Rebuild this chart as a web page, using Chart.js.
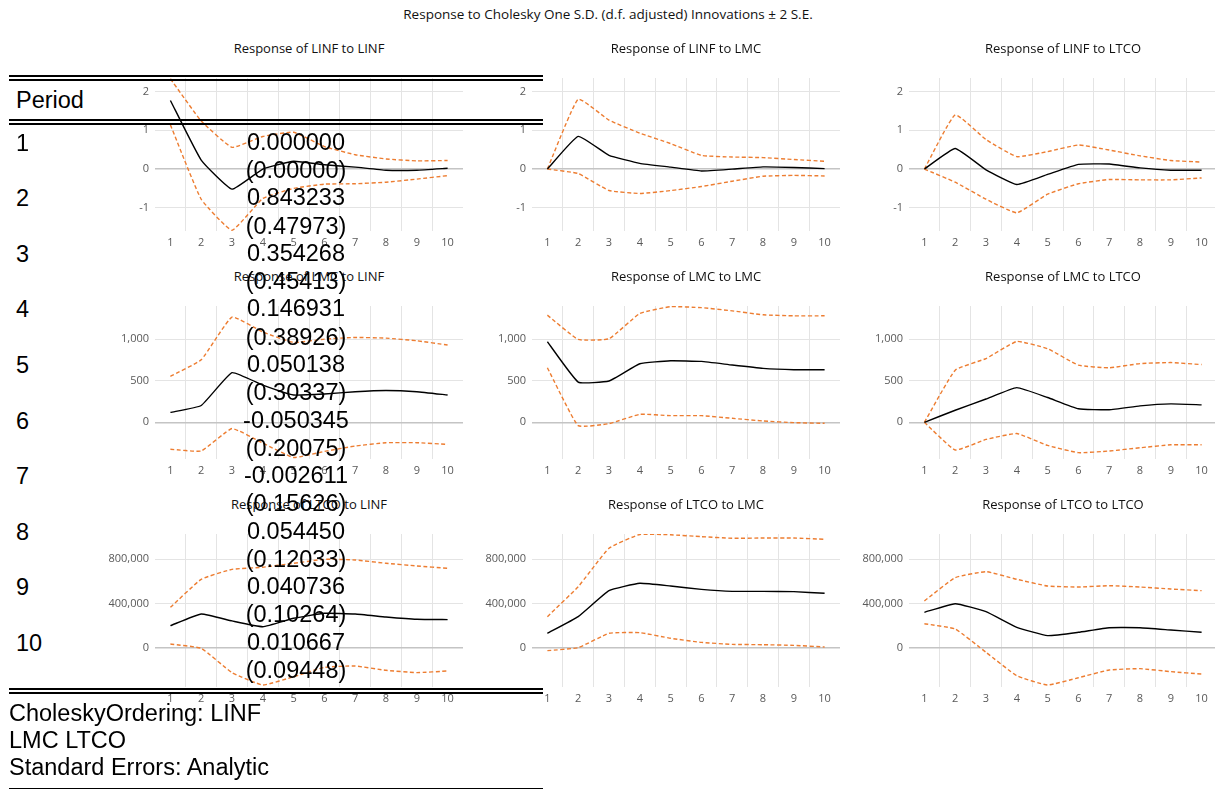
<!DOCTYPE html>
<html><head><meta charset="utf-8">
<script src="https://cdn.jsdelivr.net/npm/chart.js@4.4.0/dist/chart.umd.min.js"></script>
<style>
html,body{margin:0;padding:0;background:#fff;}
body{width:1215px;height:789px;overflow:hidden;position:relative;}
.wrap{position:absolute;}
.t{position:absolute;white-space:nowrap;}
.pt{font-family:'Open Sans',sans-serif;font-size:13px;color:#111;transform:translate(-50%,-50%);}
.tb{font-family:'Liberation Sans',Arial,sans-serif;font-size:23.5px;color:#000;line-height:28px;height:28px;}
.hl{position:absolute;left:9px;width:534px;background:#000;}
</style></head><body>
<script>
// ---------- data ----------
const periods = ['1','2','3','4','5','6','7','8','9','10'];

const mainTitle = 'Response to Cholesky One S.D. (d.f. adjusted) Innovations \u00B1 2 S.E.';
const panelTitles = [
  'Response of LINF to LINF','Response of LINF to LMC','Response of LINF to LTCO',
  'Response of LMC to LINF','Response of LMC to LMC','Response of LMC to LTCO',
  'Response of LTCO to LINF','Response of LTCO to LMC','Response of LTCO to LTCO'
];

// Row 1: responses of LINF
const linfLinf   = [1.77, 0.23, -0.52, 0.0, 0.2, 0.11, 0.05, -0.03, -0.03, 0.02];
const linfLinfUp = [2.33, 1.24, 0.56, 0.84, 0.95, 0.58, 0.37, 0.26, 0.21, 0.22];
const linfLinfLo = [1.14, -0.78, -1.58, -0.76, -0.5, -0.39, -0.38, -0.34, -0.26, -0.17];

const linfLmc   = [0.000000, 0.843233, 0.354268, 0.146931, 0.050138, -0.050345, -0.002611, 0.054450, 0.040736, 0.010667];
const linfLmcUp = [0, 1.8027, 1.2625, 0.9255, 0.6569, 0.3512, 0.3099, 0.2951, 0.2460, 0.1996];
const linfLmcLo = [0, -0.1162, -0.5540, -0.6316, -0.5566, -0.4518, -0.3151, -0.1862, -0.1645, -0.1783];

const linfLtco   = [0, 0.53, -0.02, -0.4, -0.14, 0.12, 0.13, 0.03, -0.03, -0.03];
const linfLtcoUp = [0, 1.4, 0.76, 0.32, 0.45, 0.62, 0.49, 0.34, 0.22, 0.18];
const linfLtcoLo = [0, -0.34, -0.78, -1.13, -0.65, -0.38, -0.27, -0.28, -0.28, -0.23];

// Row 2: responses of LMC
const lmcLinf   = [119, 202, 597, 447, 328, 340, 368, 383, 368, 328];
const lmcLinfUp = [553, 751, 1265, 1085, 960, 1000, 1020, 1012, 980, 929];
const lmcLinfLo = [-324, -344, -75, -250, -423, -350, -285, -245, -245, -265];

const lmcLmc   = [968, 484, 496, 704, 740, 732, 688, 648, 632, 632];
const lmcLmcUp = [1288, 996, 1004, 1308, 1390, 1378, 1340, 1292, 1280, 1280];
const lmcLmcLo = [656, -40, -16, 96, 80, 80, 48, 16, -4, -12];

const lmcLtco   = [0, 145, 280, 417, 298, 163, 151, 198, 222, 210];
const lmcLtcoUp = [0, 627, 766, 972, 885, 687, 655, 706, 718, 694];
const lmcLtcoLo = [0, -333, -206, -135, -278, -365, -345, -306, -270, -270];

// Row 3: responses of LTCO
const ltcoLinf   = [199000, 305000, 242000, 190000, 266000, 311000, 305000, 278000, 257000, 254000];
const ltcoLinfUp = [365000, 619000, 709000, 728000, 764000, 800000, 794000, 764000, 740000, 718000];
const ltcoLinfLo = [33000, -6000, -226000, -338000, -263000, -178000, -166000, -205000, -226000, -211000];

const ltcoLmc   = [130000, 281000, 516000, 583000, 558000, 528000, 510000, 510000, 507000, 492000];
const ltcoLmcUp = [281000, 552000, 900000, 1025000, 1022000, 1005000, 990000, 993000, 993000, 981000];
const ltcoLmcLo = [-27000, 0, 130000, 136000, 85000, 48000, 30000, 27000, 21000, 6000];

const ltcoLtco   = [320000, 398000, 326000, 184000, 109000, 139000, 181000, 181000, 160000, 139000];
const ltcoLtcoUp = [423000, 634000, 688000, 619000, 558000, 549000, 561000, 549000, 531000, 516000];
const ltcoLtcoLo = [217000, 169000, -42000, -254000, -338000, -272000, -202000, -190000, -217000, -239000];

// y-axis tick labels per row
const yTicksRow1 = [-1, 0, 1, 2];
const yTicksRow2 = [0, 500, 1000];
const yTicksRow3 = [0, 400000, 800000];

// Overlaid table
const tableHeader = 'Period';
const tableValues = ['0.000000','0.843233','0.354268','0.146931','0.050138','-0.050345','-0.002611','0.054450','0.040736','0.010667'];
const tableSE     = ['(0.00000)','(0.47973)','(0.45413)','(0.38926)','(0.30337)','(0.20075)','(0.15626)','(0.12033)','(0.10264)','(0.09448)'];
const tableFooter = ['CholeskyOrdering: LINF','LMC LTCO','Standard Errors: Analytic'];

// ---------- layout ----------
const PL = [155, 532, 909];     // plot left per column
const PT = [78, 306, 534];      // plot top per row
const PW = 308, PH = 153;
const AXW = 60, AXH = 24, PADR = 14, PADT = 18;
const rowRange = [[-1.60, 2.35], [-441, 1398], [-356000, 1029000]];
const rowTicks = [yTicksRow1, yTicksRow2, yTicksRow3];

const panels = [
  [linfLinf, linfLinfUp, linfLinfLo], [linfLmc, linfLmcUp, linfLmcLo], [linfLtco, linfLtcoUp, linfLtcoLo],
  [lmcLinf, lmcLinfUp, lmcLinfLo], [lmcLmc, lmcLmcUp, lmcLmcLo], [lmcLtco, lmcLtcoUp, lmcLtcoLo],
  [ltcoLinf, ltcoLinfUp, ltcoLinfLo], [ltcoLmc, ltcoLmcUp, ltcoLmcLo], [ltcoLtco, ltcoLtcoUp, ltcoLtcoLo]
];

const ORANGE = '#ED7D31';
const GRID = '#e4e4e4';
const tickFont = {family: "'Open Sans', sans-serif", size: 11};

function addText(cls, txt, css) {
  const d = document.createElement('div');
  d.className = 't ' + cls;
  d.textContent = txt;
  Object.assign(d.style, css);
  document.body.appendChild(d);
  return d;
}

// main title
addText('pt', mainTitle, {left: '608px', top: '14px', fontSize: '13.5px'});

panels.forEach((p, i) => {
  const col = i % 3, row = Math.floor(i / 3);
  const left = PL[col] - AXW, top = PT[row] - PADT;
  const w = PW + AXW + PADR, h = PH + PADT + AXH;
  const wrap = document.createElement('div');
  wrap.className = 'wrap';
  Object.assign(wrap.style, {left: left + 'px', top: top + 'px', width: w + 'px', height: h + 'px'});
  const cv = document.createElement('canvas');
  cv.width = w; cv.height = h;
  cv.style.width = w + 'px'; cv.style.height = h + 'px';
  wrap.appendChild(cv);
  document.body.appendChild(wrap);

  addText('pt', panelTitles[i], {left: (PL[col] + PW / 2) + 'px', top: (48 + row * 228) + 'px'});

  const ticks = rowTicks[row];
  new Chart(cv, {
    type: 'line',
    data: {
      labels: periods,
      datasets: [
        {data: p[0], borderColor: '#000', borderWidth: 1.4, pointRadius: 0, tension: 0.12, fill: false},
        {data: p[1], borderColor: ORANGE, borderWidth: 1.4, borderDash: [4, 2.5], pointRadius: 0, tension: 0.12, fill: false},
        {data: p[2], borderColor: ORANGE, borderWidth: 1.4, borderDash: [4, 2.5], pointRadius: 0, tension: 0.12, fill: false}
      ]
    },
    options: {
      responsive: false, animation: false, maintainAspectRatio: false,
      layout: {padding: {left: 0, right: PADR, top: PADT, bottom: 0}},
      plugins: {legend: {display: false}, tooltip: {enabled: false}, title: {display: false}},
      scales: {
        x: {
          type: 'category', offset: true,
          grid: {offset: true, drawTicks: false,
                 color: (c) => (c.type !== 'tick' || c.index === 0) ? 'rgba(0,0,0,0)' : GRID},
          border: {display: false},
          ticks: {padding: 5, color: '#595959', font: tickFont, maxRotation: 0, autoSkip: false},
          afterFit: (s) => { s.height = AXH; }
        },
        y: {
          min: rowRange[row][0], max: rowRange[row][1],
          afterBuildTicks: (s) => { s.ticks = ticks.map(v => ({value: v})); },
          grid: {drawTicks: false,
                 color: (c) => (c.tick && c.tick.value === 0) ? '#c4c4c4' : GRID,
                 lineWidth: (c) => (c.tick && c.tick.value === 0) ? 1.6 : 1},
          border: {display: false},
          ticks: {padding: 6, color: '#595959', font: tickFont,
                  callback: (v) => Number(v).toLocaleString('en-US')},
          afterFit: (s) => { s.width = AXW; }
        }
      }
    }
  });
});

// ---------- overlaid table ----------
function hline(y, hgt) {
  const d = document.createElement('div');
  d.className = 'hl';
  d.style.top = y + 'px'; d.style.height = hgt + 'px';
  document.body.appendChild(d);
}
hline(75, 2); hline(79, 2);
hline(119, 2); hline(122.5, 2);
hline(688, 2); hline(692, 2);
hline(787.5, 1.2);

function tline(txt, x, cy, center) {
  const css = {top: (cy - 14) + 'px'};
  if (center) { css.left = (x - 100) + 'px'; css.width = '200px'; css.textAlign = 'center'; }
  else css.left = x + 'px';
  addText('tb', txt, css);
}
tline(tableHeader, 16, 100, false);
for (let i = 0; i < tableValues.length; i++) {
  const cy = 141.7 + i * 55.56;
  tline(periods[i], 16, cy + 1, false);
  tline(tableValues[i], 296, cy, true);
  tline(tableSE[i], 296, cy + 28.3, true);
}
tableFooter.forEach((s, k) => tline(s, 9, 713 + k * 27, false));
</script>
</body></html>
